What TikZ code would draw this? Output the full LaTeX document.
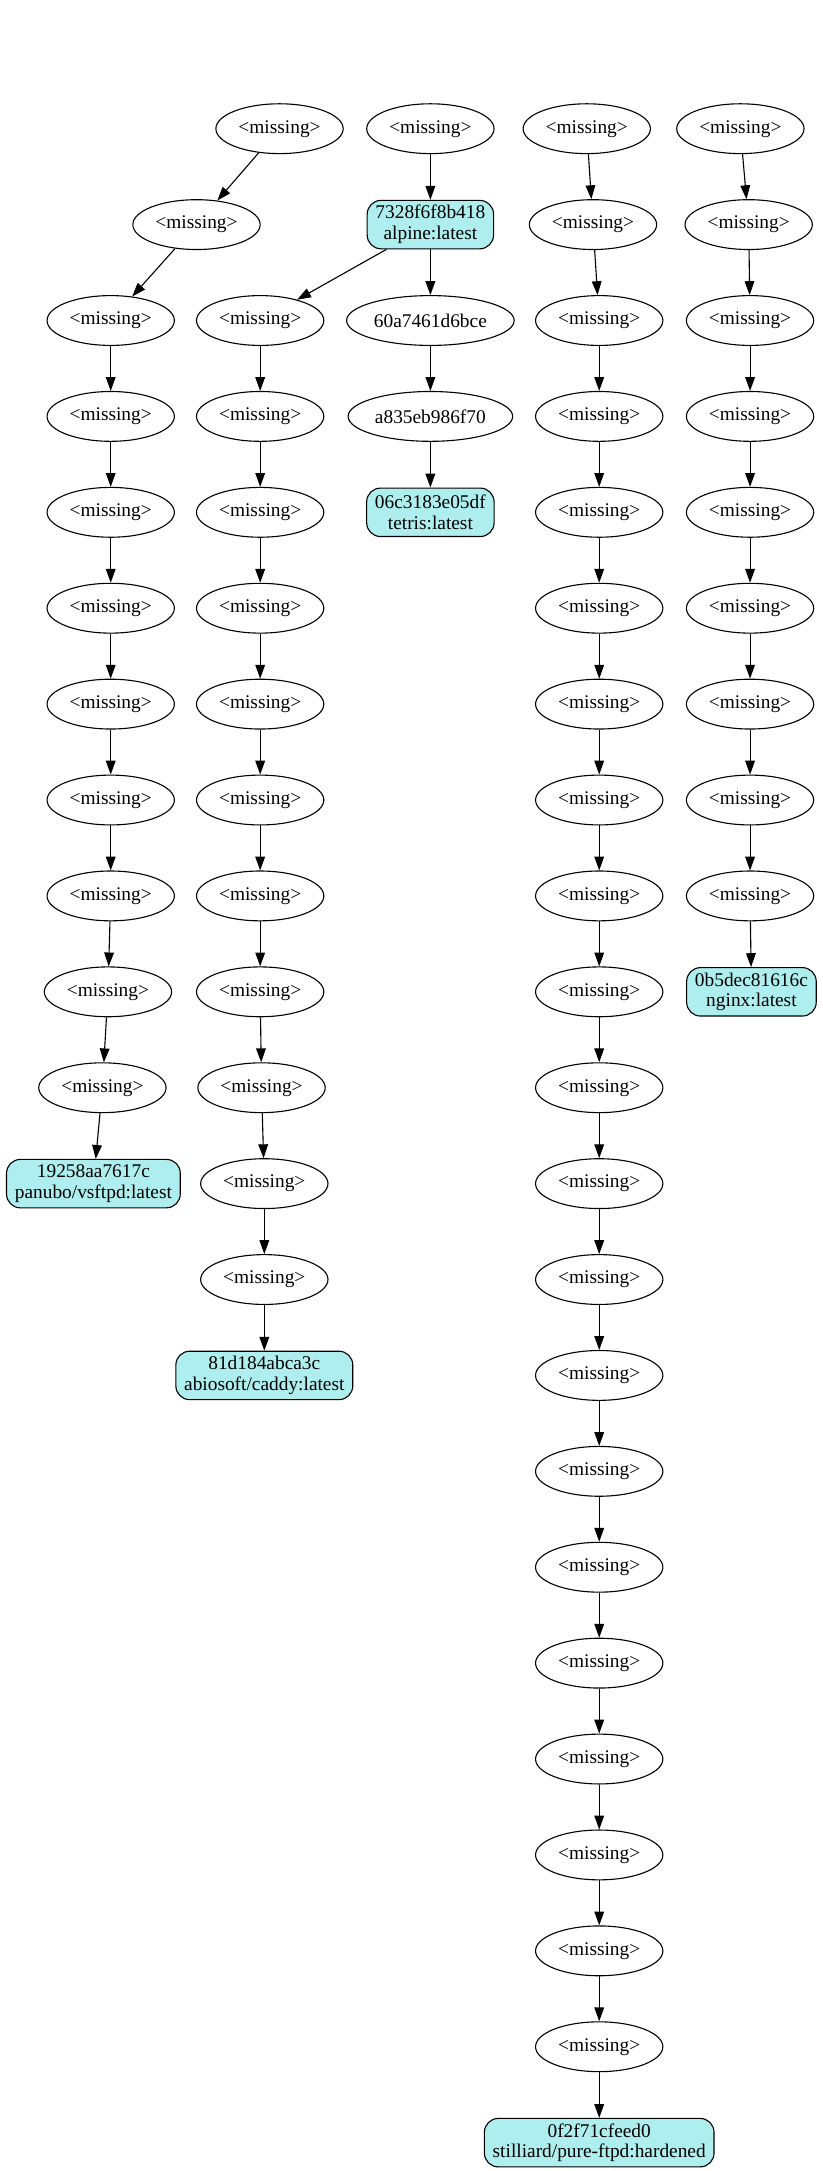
\documentclass[tikz,border=0pt]{standalone}
\usepackage{fontspec}
\setmainfont{Liberation Serif}
\usetikzlibrary{shapes.geometric,arrows.meta}
\definecolor{paleturq}{HTML}{AFEEEE}
\tikzset{
  layer/.style={draw,ellipse,line width=0.8pt,minimum width=92pt,minimum height=36pt,inner sep=2pt},
  imgbox/.style={draw,rounded corners=10pt,fill=paleturq,line width=0.8pt,minimum height=35pt,inner xsep=6pt,align=center},
  dep/.style={line width=0.8pt,-{Triangle[length=10pt,width=7pt]}}
}

\begin{document}
\begin{tikzpicture}[x=1pt,y=1pt,font=\fontsize{14}{15}\selectfont]
\useasboundingbox (0,0) rectangle (594,-1568.8);
% chain ending in panubo/vsftpd
\node[layer] (a0) at (202,-93) {<missing>};
\node[layer] (a1) at (142,-162.3) {<missing>};
\foreach \k/\x in {2/80,3/80,4/80,5/80,6/80,7/80,8/80,9/78,10/74}
  \node[layer] (a\k) at (\x,{-93-69.3*\k}) {<missing>};
\node[imgbox] (a11) at (67.5,{-93-69.3*11}) {19258aa7617c\\panubo/vsftpd:latest};
\foreach \k [remember=\k as \prev (initially 0)] in {1,...,11}
  \draw[dep] (a\prev) -- (a\k);
% alpine and its children
\node[layer] (b0) at (311,-93) {<missing>};
\node[imgbox] (b1) at (311,-162.3) {7328f6f8b418\\alpine:latest};
\foreach \k/\x in {2/188,3/188,4/188,5/188,6/188,7/188,8/188,9/188,10/189,11/191,12/191}
  \node[layer] (b\k) at (\x,{-93-69.3*\k}) {<missing>};
\node[imgbox] (b13) at (191,{-93-69.3*13}) {81d184abca3c\\abiosoft/caddy:latest};
\foreach \k [remember=\k as \prev (initially 0)] in {1,...,13}
  \draw[dep] (b\prev) -- (b\k);
\node[layer] (c2) at (311,{-93-69.3*2}) {60a7461d6bce};
\node[layer] (c3) at (311,{-93-69.3*3}) {a835eb986f70};
\node[imgbox] (c4) at (311,{-93-69.3*4}) {06c3183e05df\\tetris:latest};
\draw[dep] (b1) -- (c2);
\draw[dep] (c2) -- (c3);
\draw[dep] (c3) -- (c4);
% pure-ftpd
\node[layer] (d0) at (424,-93) {<missing>};
\node[layer] (d1) at (428.5,-162.3) {<missing>};
\foreach \k in {2,...,20}
  \node[layer] (d\k) at (433,{-93-69.3*\k}) {<missing>};
\node[imgbox] (d21) at (433,{-93-69.3*21}) {0f2f71cfeed0\\stilliard/pure-ftpd:hardened};
\foreach \k [remember=\k as \prev (initially 0)] in {1,...,21}
  \draw[dep] (d\prev) -- (d\k);
% nginx
\node[layer] (e0) at (535,-93) {<missing>};
\node[layer] (e1) at (541,-162.3) {<missing>};
\foreach \k in {2,...,8}
  \node[layer] (e\k) at (542,{-93-69.3*\k}) {<missing>};
\node[imgbox] (e9) at (543,{-93-69.3*9}) {0b5dec81616c\\nginx:latest};
\foreach \k [remember=\k as \prev (initially 0)] in {1,...,9}
  \draw[dep] (e\prev) -- (e\k);
\end{tikzpicture}
\end{document}
